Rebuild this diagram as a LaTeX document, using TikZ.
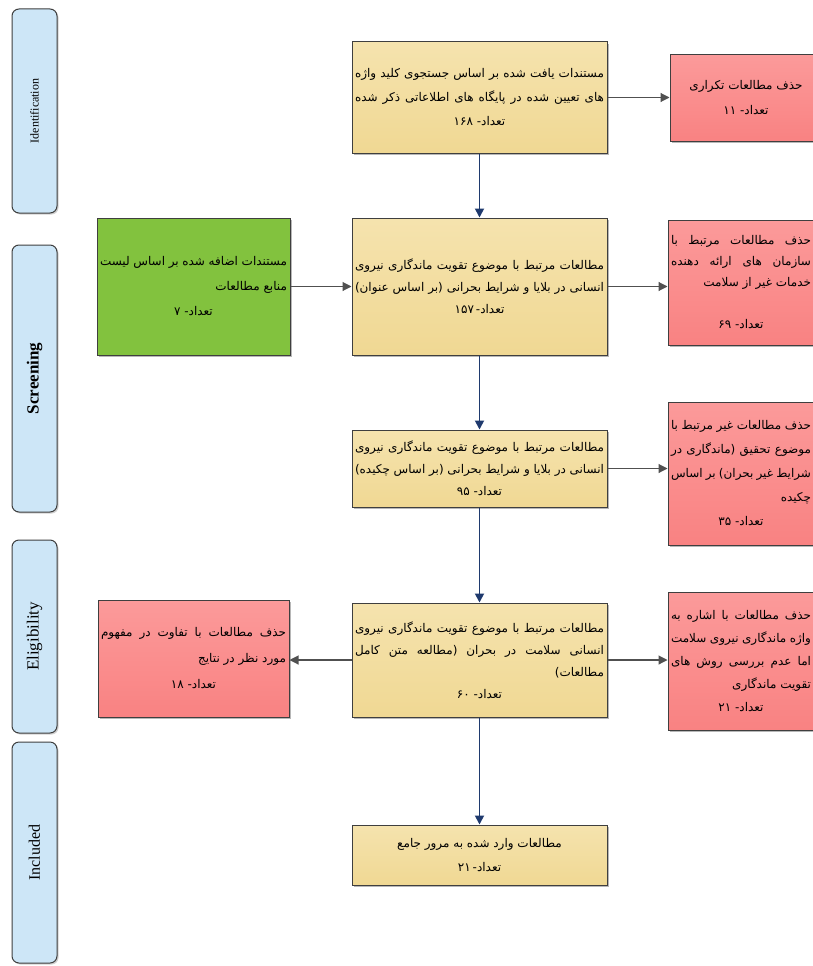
\documentclass[tikz,border=0pt]{standalone}
\usepackage{fontspec}
\setmainfont{Liberation Serif}
\newfontfamily\fa[Script=Arabic]{DejaVu Sans}
\TeXXeTstate=1
\usetikzlibrary{arrows.meta,shadows}
\definecolor{phasefill}{HTML}{CDE6F7}
\definecolor{edge}{HTML}{3F3F3F}
\definecolor{khaki}{HTML}{F0D893}
\definecolor{khakitop}{HTML}{F5E3AE}
\definecolor{redbox}{HTML}{F98282}
\definecolor{redtop}{HTML}{FB9A9A}
\definecolor{greenbox}{HTML}{82C23E}
\definecolor{navy}{HTML}{1F3A6E}
\definecolor{garrow}{HTML}{505050}
\newcommand\rl[1]{\hbox to\linewidth{\hfill\beginR #1\endR}}
\newcommand\cl[1]{\hbox to\linewidth{\hfill\beginR #1\endR\hfill}}
\newcommand\jl[1]{\hbox to\linewidth{\beginR #1\endR}}
\newcommand\fabox[3][21]{\parbox{#2}{\fa\fontsize{12}{#1}\selectfont #3}}
\tikzset{
  boxbase/.style={draw=edge, line width=1pt, inner sep=3pt,
    drop shadow={shadow xshift=2pt, shadow yshift=-2pt, opacity=.4, fill=black!70}},
  mainbox/.style={boxbase, top color=khakitop, bottom color=khaki, minimum width=255},
  redbx/.style={boxbase, top color=redtop, bottom color=redbox},
  greenbx/.style={boxbase, fill=greenbox},
  phase/.style={draw=edge, line width=1pt, fill=phasefill, rounded corners=7pt,
    rotate=90, minimum height=45, inner sep=0pt,
    drop shadow={shadow xshift=1.5pt, shadow yshift=-1.5pt, opacity=.3, fill=black!60}},
  varrow/.style={draw=navy, line width=1.8pt, -{Triangle[length=9pt,width=9pt]}},
  harrow/.style={draw=garrow, line width=1.1pt, -{Triangle[length=9pt,width=9pt]}}
}
\begin{document}
\begin{tikzpicture}[x=1pt,y=-1pt]
\useasboundingbox (0,0) rectangle (812,966);
\fill[white] (0,0) rectangle (812,966);

% phase labels
\node[phase, minimum width=204] (pid) at (34.5,111)
  {\fontsize{12}{14}\selectfont Identification};
\node[phase, minimum width=267] (pscr) at (34.5,378.5)
  {\fontsize{17}{20}\selectfont\bfseries Screening};
\node[phase, minimum width=193] (pel) at (34.5,636.5)
  {\fontsize{17}{20}\selectfont Eligibility};
\node[phase, minimum width=221] (pin) at (34.5,852.5)
  {\fontsize{16}{19}\selectfont Included};

% main column
\node[mainbox, minimum height=111] (b1) at (479.5,97.5) {\fabox[24]{249pt}{%
  \jl{مستندات یافت شده بر اساس جستجوی کلید واژه}
  \jl{های تعیین شده در پایگاه های اطلاعاتی ذکر شده}
  \cl{تعداد- ۱۶۸}}};
\node[mainbox, minimum height=137] (b2) at (479.5,286.5) {\fabox[22]{249pt}{%
  \jl{مطالعات مرتبط با موضوع تقویت ماندگاری نیروی}
  \jl{انسانی در بلایا و شرایط بحرانی (بر اساس عنوان)}
  \cl{تعداد-\,۱۵۷}}};
\node[mainbox, minimum height=77] (b3) at (479.5,468.5) {\fabox[22]{249pt}{%
  \jl{مطالعات مرتبط با موضوع تقویت ماندگاری نیروی}
  \jl{انسانی در بلایا و شرایط بحرانی (بر اساس چکیده)}
  \cl{تعداد- ۹۵}}};
\node[mainbox, minimum height=114] (b4) at (479.5,660) {\fabox[22]{249pt}{%
  \jl{مطالعات مرتبط با موضوع تقویت ماندگاری نیروی}
  \jl{انسانی سلامت در بحران (مطالعه متن کامل}
  \rl{مطالعات)}
  \cl{تعداد- ۶۰}}};
\node[mainbox, minimum height=60] (b5) at (479.5,855) {\fabox[24]{249pt}{%
  \cl{مطالعات وارد شده به مرور جامع}
  \cl{تعداد-\,۲۱}}};

% side boxes
\node[redbx, minimum width=152, minimum height=86] (r1) at (746,98) {\fabox[25]{146pt}{%
  \cl{حذف مطالعات تکراری}
  \cl{تعداد- ۱۱}}};
\node[greenbx, minimum width=193, minimum height=137] (g1) at (193.5,286.5) {\fabox[25]{187pt}{%
  \jl{مستندات اضافه شده بر اساس لیست}
  \rl{منابع مطالعات}
  \cl{تعداد- ۷}}};
\node[redbx, minimum width=154, minimum height=125] (r2) at (745,282.5) {\fabox{140pt}{%
  \jl{حذف مطالعات مرتبط با}
  \jl{سازمان های ارائه دهنده}
  \rl{خدمات غیر از سلامت}
  \cl{}
  \cl{تعداد- ۶۹}}\hspace*{8pt}};
\node[redbx, minimum width=154, minimum height=143] (r3) at (745,473.5) {\fabox[24]{140pt}{%
  \jl{حذف مطالعات غیر مرتبط با}
  \jl{موضوع تحقیق (ماندگاری در}
  \jl{شرایط غیر بحران) بر اساس}
  \rl{چکیده}
  \cl{تعداد- ۳۵}}\hspace*{8pt}};
\node[redbx, minimum width=154, minimum height=138] (r4) at (745,661) {\fabox[23]{140pt}{%
  \jl{حذف مطالعات با اشاره به}
  \jl{واژه ماندگاری نیروی سلامت}
  \jl{اما عدم بررسی روش های}
  \rl{تقویت ماندگاری}
  \cl{تعداد- ۲۱}}\hspace*{8pt}};
\node[redbx, minimum width=191, minimum height=117] (rl) at (193.5,658.5) {\fabox[26]{185pt}{%
  \jl{حذف مطالعات با تفاوت در مفهوم}
  \rl{مورد نظر در نتایج}
  \cl{تعداد- ۱۸}}};

% vertical flow
\draw[varrow] (b1) -- (b2);
\draw[varrow] (b2) -- (b3);
\draw[varrow] (b3) -- (b4);
\draw[varrow] (b4) -- (b5);

% horizontal arrows
\draw[harrow] (b1.east) -- (b1.east -| r1.west);
\draw[harrow] (g1.east) -- (g1.east -| b2.west);
\draw[harrow] (b2.east) -- (b2.east -| r2.west);
\draw[harrow] (b3.east) -- (b3.east -| r3.west);
\draw[harrow] (b4.east) -- (b4.east -| r4.west);
\draw[harrow] (b4.west) -- (b4.west -| rl.east);
\end{tikzpicture}
\end{document}
